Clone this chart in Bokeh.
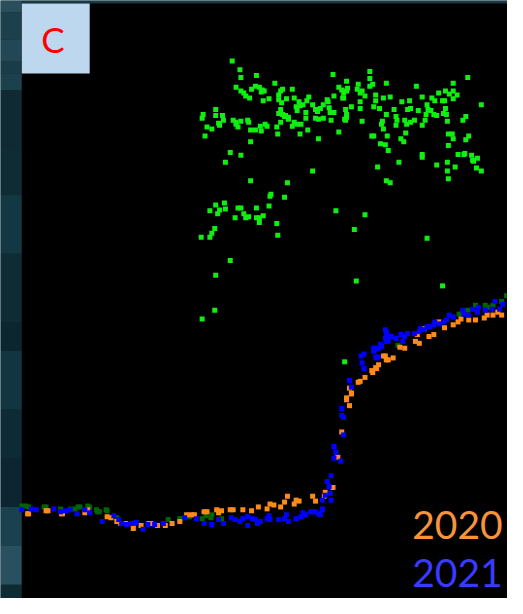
from bokeh.plotting import figure
from bokeh.models import Range1d
from bokeh.core.properties import value
from bokeh.embed import file_html
from bokeh.resources import INLINE

# ---- data (x = time position, y = value position) ----
green_x = [239,247,248,264,243,248,251,253,257,259,263,267,270,272,269,271,277,283,289,291,287,287,290,295,301,289,287,291,294,297,303,308,309,305,306,312,318,316,322,325,327,330,333,337,338,343,357,349,352,353,357,358,339,340,344,356,357,356,325,328,333,341,315,315,317,328,349,309,303,306,310,301,293,297,289,285,286,273,275,269,268,263,258,255,256,248,243,245,240,243,229,230,225,226,222,222,218,213,211,209,208,258,237,232,248,322,258,296,279,
           381,381,398,429,467,482,369,368,371,373,384,381,354,354,344,387,387,395,402,376,371,371,362,357,355,385,391,414,422,423,420,431,435,406,440,441,444,447,450,439,438,435,445,452,448,456,458,459,463,467,471,467,459,457,460,496,398,394,393,395,408,409,408,417,419,423,427,373,418,383,385,399,413,416,392,397,400,435,435,411,389,398,402,450,461,462,466,467,480,483,462,472,478,486,488,492,461,469,461,462,491,496,477,480,
           278,293,277,222,231,232,226,224,216,245,248,264,242,251,253,256,264,267,267,271,285,286,221,218,216,207,237,222,221,208,346,376,365,367,440,456,355,479,487]
green_y = [62,71,79,77,89,93,95,98,100,91,88,89,92,93,94,103,101,85,93,91,97,102,105,101,91,112,116,117,118,120,100,104,108,109,113,107,99,103,107,112,114,111,107,102,104,76,83,89,92,100,93,90,110,115,115,112,120,123,121,122,121,123,115,121,133,142,135,137,125,127,127,129,119,122,125,130,137,127,129,134,129,133,133,123,125,124,127,130,123,125,118,123,126,128,118,112,132,130,139,117,121,145,156,166,159,175,185,187,199,
           73,80,85,88,85,79,86,91,95,93,86,88,95,100,98,97,103,100,99,98,104,111,109,117,122,109,111,104,103,111,112,113,99,112,107,112,113,117,118,117,123,128,100,95,103,103,103,93,96,93,97,101,111,116,117,107,117,124,127,132,119,123,128,123,127,125,123,124,136,139,139,139,142,145,147,148,154,158,161,166,171,185,187,169,124,137,137,142,143,139,149,158,158,159,165,162,166,171,175,183,172,175,123,119,
           201,202,211,210,208,214,215,219,216,213,213,213,223,219,223,222,223,223,228,221,229,241,234,239,243,243,267,282,318,327,216,220,235,288,244,293,371,157,164]

dkgreen_x = [22,26,29,45,47,62,72,77,80,82,90,92,99,100,102,109,110,120,137,173,185,186,195,208,212,217,218,228,410,473,477,482,490,500,503,508,517,522]
dkgreen_y = [519,519,520,520,520,522,522,522,520,520,519,520,523,525,525,523,524,531,539,533,532,532,530,532,529,531,528,532,354,322,320,318,313,313,315,313,309,303]

orange_x = [28,29,47,49,63,64,87,90,110,114,120,124,129,137,145,153,155,162,170,177,185,192,197,200,210,213,223,225,228,237,240,250,259,266,275,278,282,289,293,296,303,305,308,322,325,334,335,343,348,352,360,357,357,362,362,360,369,371,376,383,384,387,388,390,395,398,397,400,405,412,417,428,432,430,437,442,447,452,458,467,472,475,483,490,499,502,508,513,517]
orange_y = [527,527,524,524,527,527,526,523,530,531,535,537,537,542,539,537,537,539,539,537,535,528,528,528,525,525,523,526,524,523,523,523,524,520,522,517,518,520,515,509,517,513,514,509,514,509,505,500,469,443,416,410,408,404,403,398,392,391,387,380,382,377,378,374,365,369,365,369,367,356,357,350,352,343,337,345,343,330,336,333,330,327,328,328,326,323,323,320,323]

blue_x = [22,32,37,55,62,67,72,79,87,92,105,117,122,125,130,135,140,147,152,159,168,190,202,210,218,225,230,238,242,247,250,255,260,263,268,265,255,275,278,277,287,293,295,297,305,310,312,315,320,325,332,330,323,328,332,332,335,337,339,340,341,341,344,346,344,351,354,352,352,354,360,362,373,375,375,372,387,390,385,388,385,390,393,398,392,387,398,400,403,397,400,398,397,408,413,415,417,420,427,432,433,437,440,443,447,448,453,457,460,463,467,477,478,483,487,492,493,500,507,510,515,518]
blue_y = [523,522,523,522,525,524,523,527,523,526,535,529,533,537,538,537,536,543,538,538,537,531,532,537,538,533,537,531,533,535,532,530,532,533,535,537,539,532,533,529,533,532,528,535,532,530,526,528,525,525,523,528,525,527,513,522,508,494,499,506,513,488,458,464,470,473,446,419,426,428,390,397,372,378,363,365,366,366,360,367,357,357,355,350,353,358,342,345,345,347,350,340,338,347,343,350,345,342,342,340,337,338,335,335,333,330,332,330,328,323,325,318,322,323,317,320,315,318,317,309,317,312]

panel_label = "C"
year_labels = ["2020", "2021"]
year_colors = ["#f7933a", "#3a3aff"]

# ---- layout helpers (decoration) ----
band_tops = [0, 12, 40, 62, 75, 92, 150, 200, 260, 330, 360, 420, 470, 520, 560, 600]
band_bots = [12, 40, 62, 75, 92, 150, 200, 260, 330, 360, 420, 470, 520, 560, 600, 614]
band_cols = ["#2a4e5b", "#1c404c", "#234754", "#1a3c48", "#1c404c", "#0f2a33", "#0f2c35", "#133843",
             "#0f2b34", "#0c2630", "#123540", "#0e2a34", "#0c2530", "#1b414e", "#28505e", "#0e2a33"]

p = figure(width=507, height=598, output_backend="svg", toolbar_location=None,
           x_axis_type=None, y_axis_type=None, min_border=0,
           x_range=Range1d(0, 523), y_range=Range1d(614, 0))
p.outline_line_color = None
p.background_fill_color = "#0e2a33"
p.border_fill_color = "#0e2a33"

# left photo-like strip and top strip
p.quad(left=0, right=22, top=band_tops, bottom=band_bots, fill_color=band_cols, line_color=None)
p.quad(left=22, right=523, top=0, bottom=3, fill_color="#173a46", line_color=None)
# black chart area
p.quad(left=22, right=523, top=3, bottom=614, fill_color="black", line_color=None)

# series
p.scatter(dkgreen_x, dkgreen_y, marker="square", size=5, fill_color="#006400", line_color=None)
p.scatter(orange_x, orange_y, marker="square", size=5, fill_color="#ff8a1a", line_color=None)
p.scatter(blue_x, blue_y, marker="square", size=5, fill_color="#0000ff", line_color=None)
p.scatter(green_x, green_y, marker="square", size=5, fill_color="#11ee11", line_color=None)

# panel label box
p.quad(left=22, right=92, top=3, bottom=75, fill_color="#bdd7ee", line_color=None)
p.text(x=[54], y=[40], text=[panel_label], text_color="#ff0000", text_font=value("Lato"),
       text_font_size="35px", text_align="center", text_baseline="middle")

# year labels
p.text(x=[518, 518], y=[539, 588], text=year_labels, text_color=year_colors,
       text_font=value("Lato"), text_font_size="39px", text_align="right",
       text_baseline="alphabetic")

open("out.html", "w").write(file_html(p, INLINE))
